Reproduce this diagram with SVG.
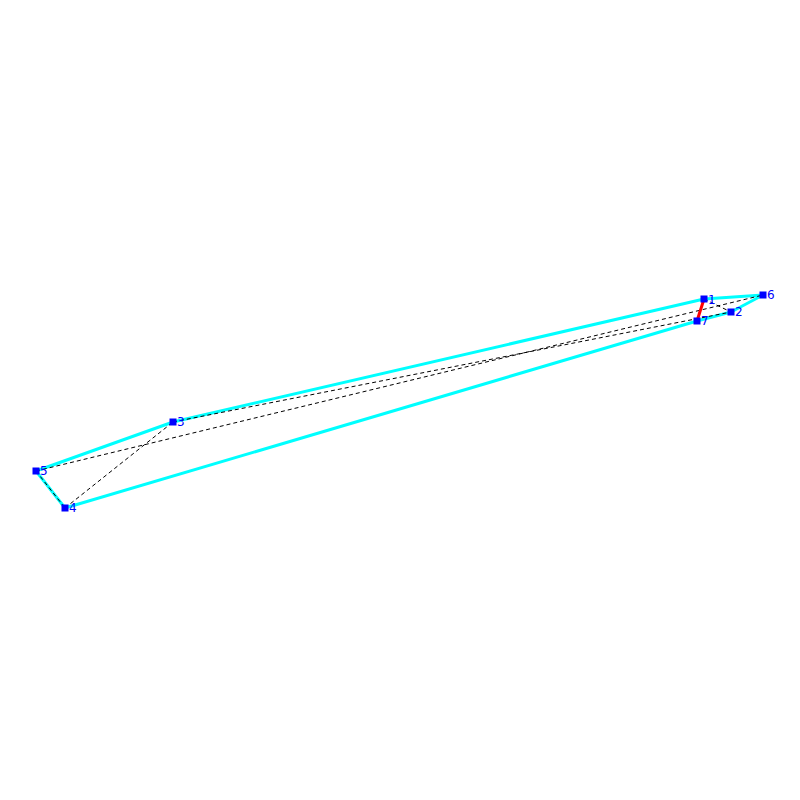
<svg xmlns="http://www.w3.org/2000/svg" width="800" height="800" viewBox="0 0 800 800">
<style>
.hull{stroke:#00ffff;stroke-width:3;fill:none;stroke-linejoin:round}
.dash{stroke:#000;stroke-width:1;stroke-dasharray:4,3;fill:none}
.red{stroke:#ff0000;stroke-width:3;fill:none}
.node rect{fill:#0000ff}
.node text{fill:#0000ff;font-family:"DejaVu Sans",sans-serif;font-size:12px}
</style>
<rect width="800" height="800" fill="#fff"/>
<g id="connectors">
<polygon class="hull" points="36,471 65,508 697,321 731,312 763,295 704,299 173,422"/>
<line class="dash" x1="36" y1="471" x2="65" y2="508"/>
<line class="dash" x1="65" y1="508" x2="173" y2="422"/>
<line class="dash" x1="36" y1="471" x2="763" y2="295"/>
<line class="dash" x1="173" y1="422" x2="731" y2="312"/>
<line class="dash" x1="704" y1="299" x2="731" y2="312"/>
<line class="red" x1="704" y1="299" x2="697" y2="321"/>
</g>
<g id="n1" class="node"><rect x="700.5" y="295.5" width="7" height="7"/><text x="708" y="304">1</text></g>
<g id="n2" class="node"><rect x="727.5" y="308.5" width="7" height="7"/><text x="735" y="316">2</text></g>
<g id="n3" class="node"><rect x="169.5" y="418.5" width="7" height="7"/><text x="177" y="426">3</text></g>
<g id="n4" class="node"><rect x="61.5" y="504.5" width="7" height="7"/><text x="69" y="512">4</text></g>
<g id="n5" class="node"><rect x="32.5" y="467.5" width="7" height="7"/><text x="40" y="475">5</text></g>
<g id="n6" class="node"><rect x="759.5" y="291.5" width="7" height="7"/><text x="767" y="299">6</text></g>
<g id="n7" class="node"><rect x="693.5" y="317.5" width="7" height="7"/><text x="701" y="325">7</text></g>
</svg>
